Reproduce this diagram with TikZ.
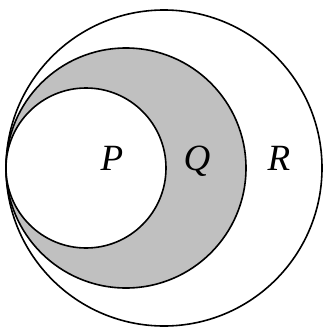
\documentclass[tikz,border=0pt]{standalone}
\usepackage{fontspec}
\setmainfont{Liberation Serif}
\begin{document}
\begin{tikzpicture}[x=1pt,y=-1pt,
  ring/.style={draw=black,line width=1.6pt},
  lbl/.style={font=\fontsize{37}{40}\selectfont\itshape,inner sep=0pt,anchor=base}]
\useasboundingbox (0,0) rectangle (324,327);
\definecolor{shade}{RGB}{192,192,192}
\draw[ring,fill=white] (164,168) circle (158);
\draw[ring,fill=shade] (126,168) circle (120);
\draw[ring,fill=white] (86,168) circle (80);
\node[lbl] (p) at (112,170) {P};
\node[lbl] (q) at (197,170) {Q};
\node[lbl] (r) at (279,170) {R};
\end{tikzpicture}
\end{document}
